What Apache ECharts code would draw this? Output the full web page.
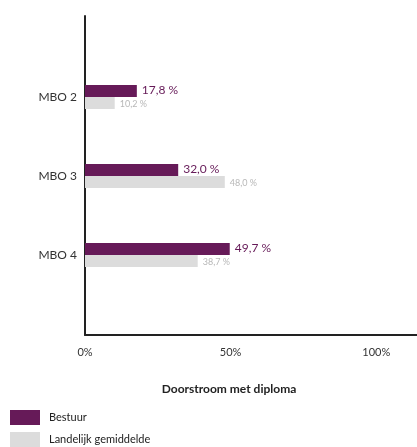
<!DOCTYPE html>
<html>
<head>
<meta charset="utf-8">
<script src="https://cdn.jsdelivr.net/npm/echarts@6/dist/echarts.min.js"></script>
<style>
  html, body { margin: 0; padding: 0; background: #fff; }
  #chart { width: 417px; height: 447px; }
</style>
</head>
<body>
<div id="chart"></div>
<script>
// levels and percentages (doorstroom met diploma)
const categories = ['MBO 2', 'MBO 3', 'MBO 4']
const bestuur = [17.8, 32.0, 49.7]
const landelijk = [10.2, 48.0, 38.7]
const xTicks = [0, 50, 100]

const purple = '#661a58'
const grey = '#dcdcdc'
const font = 'Lato, "Open Sans", sans-serif'

const fmt = (v) => v.toFixed(1).replace('.', ',') + ' %'

const chart = echarts.init(document.getElementById('chart'))

// axis runs off the right edge of the picture, so cut it at ~114%
const xMax = 114

chart.setOption({
  animation: false,
  legend: {
    orient: 'vertical',
    left: 10,
    top: 410,
    padding: 0,
    itemWidth: 30,
    itemHeight: 15,
    itemGap: 7,
    icon: 'rect',
    textStyle: { fontFamily: font, fontSize: 11, color: '#222', padding: [0, 0, 0, 4] },
    data: ['Bestuur', 'Landelijk gemiddelde'],
  },
  grid: [
    // bars
    { left: 85, right: 0, top: 57.5, height: 237, outerBoundsMode: 'none' },
    // frame with axes
    { left: 85, right: 0, top: 16, height: 319, outerBoundsMode: 'none' },
  ],
  xAxis: [
    { gridIndex: 0, type: 'value', min: 0, max: xMax, show: false },
    {
      gridIndex: 1,
      type: 'value',
      min: 0,
      max: xMax,
      interval: 50,
      axisLine: { show: true, lineStyle: { color: '#222', width: 2 } },
      axisTick: { show: false },
      splitLine: { show: false },
      axisLabel: {
        margin: 12,
        fontFamily: font,
        fontSize: 11,
        color: '#333',
        formatter: (v) => (xTicks.includes(v) ? v + '%' : ''),
      },
      name: 'Doorstroom met diploma',
      nameLocation: 'middle',
      nameGap: 48,
      nameTextStyle: { fontFamily: font, fontSize: 12, fontWeight: 'bold', color: '#222', padding: [0, 0, 0, -44] },
    },
  ],
  yAxis: [
    {
      gridIndex: 0,
      type: 'category',
      inverse: true,
      data: categories,
      axisLine: { show: false },
      axisTick: { show: false },
      axisLabel: { margin: 8, fontFamily: font, fontSize: 12, color: '#333' },
    },
    {
      gridIndex: 1,
      type: 'value',
      axisLine: { show: true, lineStyle: { color: '#222', width: 2 } },
      axisTick: { show: false },
      axisLabel: { show: false },
      splitLine: { show: false },
    },
  ],
  series: [
    {
      name: 'Bestuur',
      type: 'bar',
      xAxisIndex: 0,
      yAxisIndex: 0,
      data: bestuur,
      barWidth: 12,
      barGap: '0%',
      itemStyle: { color: purple },
      label: {
        show: true,
        position: 'right',
        distance: 5,
        formatter: (p) => fmt(p.value),
        fontFamily: font,
        fontSize: 12,
        color: purple,
        offset: [0, -1],
      },
    },
    {
      name: 'Landelijk gemiddelde',
      type: 'bar',
      xAxisIndex: 0,
      yAxisIndex: 0,
      data: landelijk,
      barWidth: 12,
      barGap: '0%',
      itemStyle: { color: grey },
      label: {
        show: true,
        position: 'right',
        distance: 5,
        formatter: (p) => fmt(p.value),
        fontFamily: font,
        fontSize: 9,
        color: '#b8b8b8',
        offset: [0, 1],
      },
    },
  ],
})
</script>
</body>
</html>
